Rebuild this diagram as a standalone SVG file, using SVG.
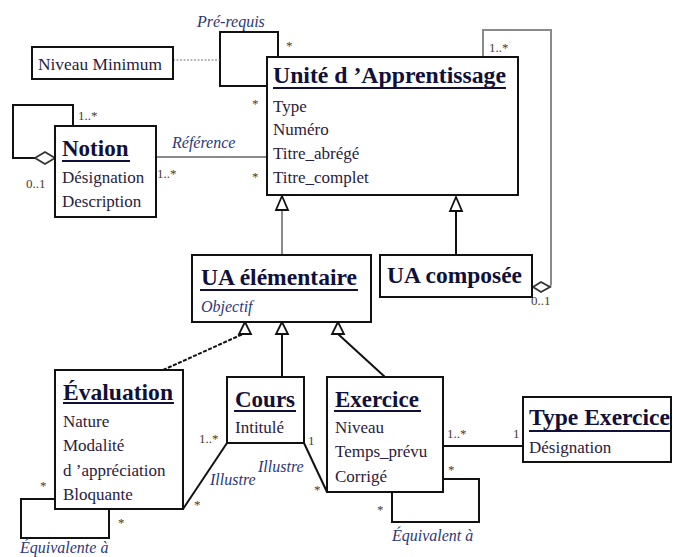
<svg xmlns="http://www.w3.org/2000/svg" width="673" height="557" viewBox="0 0 673 557">
<style>
  .box{fill:#fff;stroke:#111;stroke-width:2}
  .t{font-family:"Liberation Serif","Times New Roman",serif;font-weight:bold;font-size:23px;fill:#10103a}
  .a{font-family:"Liberation Serif","Tinos","DejaVu Serif Condensed","DejaVu Serif",serif;font-weight:normal;font-size:17px;fill:#2a2040}
  .i{font-family:"Liberation Serif","Times New Roman",serif;font-style:italic;font-size:16px;fill:#2c3878}
  .m{font-family:"Liberation Serif","Tinos","DejaVu Serif Condensed","DejaVu Serif",serif;font-weight:normal;font-size:13px;fill:#4a3a30}
  .ul{stroke:#10103a;stroke-width:2}
  .c{fill:none;stroke:#111;stroke-width:2}
  .g{fill:none;stroke:#8a8a8a;stroke-width:2}
  .tri{fill:#fff;stroke:#111;stroke-width:1.8}
  .dia{fill:#fff;stroke:#333;stroke-width:1.8}
</style>
<rect width="673" height="557" fill="#fff"/>
<g id="connectors">
  <polyline class="c" points="267,86 220,86 220,32 278,32 278,57"/>
  <line x1="173" y1="60" x2="220" y2="60" stroke="#777" stroke-width="1.2" stroke-dasharray="2,1.5"/>
  <text class="i" x="197" y="27">Pré-requis</text>
  <text class="m" x="286" y="50">*</text>
  <text class="m" x="252" y="108">*</text>
  <polyline class="g" points="483,57 483,30 551,30 551,284 550,287"/>
  <polygon class="dia" points="533,287 541,282 550,287 541,292"/>
  <text class="m" x="489" y="52">1..*</text>
  <text class="m" x="531" y="305">0..1</text>
  <polyline class="c" points="73,126 73,105 13,105 13,158 35,158"/>
  <polygon class="dia" points="35,158 45,152 55,158 45,164"/>
  <text class="m" x="78" y="120">1..*</text>
  <text class="m" x="26" y="188">0..1</text>
  <line class="g" x1="156" y1="157" x2="267" y2="157" stroke="#777"/>
  <text class="i" x="172" y="148">Référence</text>
  <text class="m" x="157" y="178">1..*</text>
  <text class="m" x="252" y="181">*</text>
  <line class="g" x1="282" y1="210" x2="282" y2="255"/>
  <polygon class="tri" points="282,196 276,210 288,210" stroke="#555"/>
  <line class="c" x1="456" y1="211" x2="456" y2="255"/>
  <polygon class="tri" points="456,197 450,211 462,211"/>
  <line class="c" x1="163" y1="370" x2="243" y2="334" stroke-dasharray="4,1.5"/>
  <polygon class="tri" points="245,322 239,334 251,334"/>
  <line class="c" x1="282" y1="334" x2="282" y2="377"/>
  <polygon class="tri" points="282,322 276,334 288,334"/>
  <line class="c" x1="338" y1="334" x2="385" y2="377" stroke="#333"/>
  <polygon class="tri" points="338,322 332,334 344,334"/>
  <line class="c" x1="227" y1="443" x2="183" y2="509" stroke="#333" stroke-width="1.6"/>
  <text class="m" x="199" y="443">1..*</text>
  <text class="m" x="194" y="509">*</text>
  <text class="i" x="210" y="485">Illustre</text>
  <line class="c" x1="304" y1="443" x2="327" y2="492" stroke="#333" stroke-width="1.6"/>
  <text class="m" x="308" y="445">1</text>
  <text class="m" x="314" y="494">*</text>
  <text class="i" x="258" y="472">Illustre</text>
  <polyline class="c" points="55,499 21,499 21,538 109,538 109,509"/>
  <text class="m" x="40" y="490">*</text>
  <text class="m" x="118" y="527">*</text>
  <text class="i" x="20" y="553">Équivalente à</text>
  <polyline class="c" points="443,479 479,479 479,522 392,522 392,492"/>
  <text class="m" x="448" y="474">*</text>
  <text class="m" x="377" y="514">*</text>
  <text class="i" x="392" y="541">Équivalent à</text>
  <line class="c" x1="443" y1="446" x2="523" y2="446"/>
  <text class="m" x="447" y="438">1..*</text>
  <text class="m" x="513" y="438">1</text>
</g>
<g id="niveau-minimum">
  <rect class="box" x="32" y="47" width="141" height="32"/>
  <text class="a" x="38" y="70" textLength="124" lengthAdjust="spacingAndGlyphs">Niveau Minimum</text>
</g>
<g id="unite-apprentissage">
  <rect class="box" x="267" y="57" width="251" height="138"/>
  <text class="t" x="273" y="83" textLength="233" lengthAdjust="spacingAndGlyphs">Unité d ’Apprentissage</text>
  <line class="ul" x1="273" y1="88" x2="506" y2="88"/>
  <text class="a" x="273" y="112">Type</text>
  <text class="a" x="273" y="135">Numéro</text>
  <text class="a" x="273" y="159">Titre_abrégé</text>
  <text class="a" x="273" y="183">Titre_complet</text>
</g>
<g id="notion">
  <rect class="box" x="55" y="126" width="101" height="91"/>
  <text class="t" x="62" y="156">Notion</text>
  <line class="ul" x1="62" y1="161" x2="130" y2="161"/>
  <text class="a" x="62" y="183">Désignation</text>
  <text class="a" x="62" y="207">Description</text>
</g>
<g id="ua-elementaire">
  <rect class="box" x="192" y="255" width="179" height="67"/>
  <text class="t" x="201" y="285" textLength="156" lengthAdjust="spacingAndGlyphs">UA élémentaire</text>
  <line class="ul" x1="200" y1="290" x2="358" y2="290"/>
  <text class="i" x="201" y="312">Objectif</text>
</g>
<g id="ua-composee">
  <rect class="box" x="380" y="255" width="152" height="42"/>
  <text class="t" x="387" y="283" textLength="135" lengthAdjust="spacingAndGlyphs">UA composée</text>
</g>
<g id="evaluation">
  <rect class="box" x="55" y="370" width="128" height="139"/>
  <text class="t" x="63" y="400" textLength="110" lengthAdjust="spacingAndGlyphs">Évaluation</text>
  <line class="ul" x1="63" y1="403" x2="174" y2="403"/>
  <text class="a" x="63" y="427">Nature</text>
  <text class="a" x="63" y="451">Modalité</text>
  <text class="a" x="63" y="476">d ’appréciation</text>
  <text class="a" x="63" y="500">Bloquante</text>
</g>
<g id="cours">
  <rect class="box" x="227" y="377" width="77" height="66"/>
  <text class="t" x="235" y="407">Cours</text>
  <line class="ul" x1="234" y1="411" x2="296" y2="411"/>
  <text class="a" x="235" y="433">Intitulé</text>
</g>
<g id="exercice">
  <rect class="box" x="327" y="377" width="116" height="115"/>
  <text class="t" x="335" y="407">Exercice</text>
  <line class="ul" x1="334" y1="411" x2="421" y2="411"/>
  <text class="a" x="335" y="433">Niveau</text>
  <text class="a" x="335" y="457">Temps_prévu</text>
  <text class="a" x="335" y="482">Corrigé</text>
</g>
<g id="type-exercice">
  <rect class="box" x="523" y="397" width="148" height="65"/>
  <text class="t" x="529" y="425" textLength="141" lengthAdjust="spacingAndGlyphs">Type Exercice</text>
  <line class="ul" x1="529" y1="431" x2="670" y2="431"/>
  <text class="a" x="529" y="453">Désignation</text>
</g>
</svg>
